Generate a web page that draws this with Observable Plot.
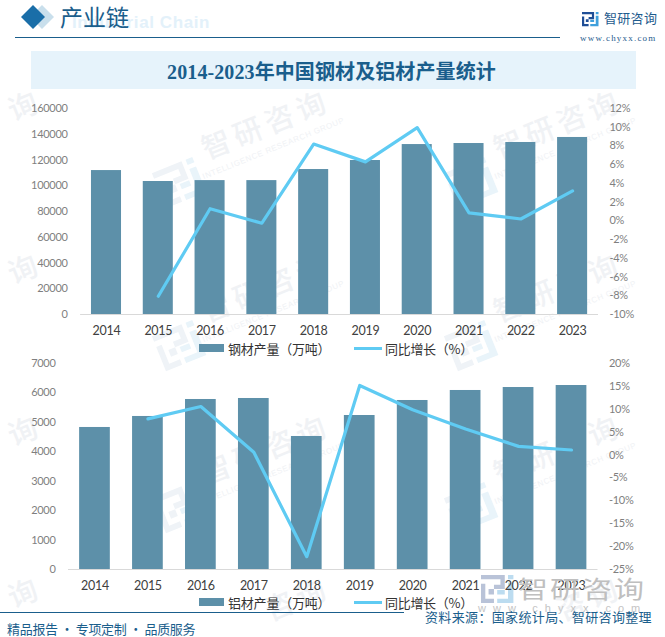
<!DOCTYPE html>
<html lang="zh">
<head>
<meta charset="utf-8">
<script src="https://cdn.jsdelivr.net/npm/d3@7"></script>
<script src="https://cdn.jsdelivr.net/npm/@observablehq/plot@0.6"></script>
<style>
html,body{margin:0;padding:0;background:#fff;}
#page{position:relative;width:665px;height:637px;overflow:hidden;font-family:"Noto Sans CJK SC","Noto Sans",sans-serif;}
#page>svg,.layer{position:absolute;left:0;}
.t{position:absolute;white-space:nowrap;}
.box{position:absolute;}
.layer svg{display:block;background:transparent;}
</style>
</head>
<body>
<div id="page"></div>
<script>
const years = ["2014","2015","2016","2017","2018","2019","2020","2021","2022","2023"];
const steelOutput = [111800,103300,104000,104000,112600,119600,132000,132800,133600,137500];
const steelGrowth = [null,-8.05,1.3,-0.25,8.2,6.3,9.95,0.85,0.2,3.2];
const alumOutput = [4826,5200,5777,5811,4520,5233,5743,6083,6184,6252];
const alumGrowth = [null,7.9,10.6,0.6,-22.2,15.2,9.9,5.7,1.9,1.1];
const steelTicks = [0,20000,40000,60000,80000,100000,120000,140000,160000];
const steelPctTicks = [-10,-8,-6,-4,-2,0,2,4,6,8,10,12];
const alumTicks = [0,1000,2000,3000,4000,5000,6000,7000];
const alumPctTicks = [-25,-20,-15,-10,-5,0,5,10,15,20];
const title = "2014-2023年中国钢材及铝材产量统计";
const barColor = "#5d90a9", lineColor = "#5fcbf3", brand = "#1a5e8c";
const page = document.getElementById("page");

function el(cls, css, text){
  const d = document.createElement("div");
  d.className = cls; d.style.cssText = css;
  if (text) d.textContent = text;
  page.appendChild(d);
  return d;
}

/* brand mark */
function logo(g, c1, c2){
  g.append("path").attr("fill",c1).attr("d","M0 0H22V13H12V9H18V4H0Z M0 8H4V22H12V26H0Z M7 13H12V18H7Z");
  g.append("path").attr("fill",c2).attr("d","M25 0H30V4H25Z M25 7H30V26H15V22H25Z M15 14H22V18H15Z");
}

/* watermark layer */
const wm = d3.select(page).append("svg").attr("width",665).attr("height",637).style("top",0);
function mark(cx, cy, word, full){
  const g = wm.append("g").attr("transform",`translate(${cx},${cy}) rotate(-22)`);
  g.append("text").attr("x",70).attr("text-anchor","end").attr("font-size",29).attr("font-weight",500)
    .attr("letter-spacing",5).attr("fill","#f0f2f5").attr("font-family","Noto Sans CJK SC").text(word);
  if (full) {
    g.append("text").attr("y",17).attr("text-anchor","middle").attr("font-size",8)
      .attr("letter-spacing",.6).attr("fill","#f0f2f5").attr("font-family","Liberation Sans").text("INTELLIGENCE RESEARCH GROUP");
  }
  logo(g.append("g").attr("transform","translate(-122,-8) scale(1.45)"),"#eff3f7","#e9f4fa");
}
for (const cx of [268,560]) {
  for (const cy of [135,298,460]) mark(cx,cy,"智研咨询",true);
  mark(cx,622,"咨询",false);
}
for (const cy of [135,298,460,622]) mark(-20,cy,"询",false);

/* header */
const head = d3.select(page).append("svg").attr("width",665).attr("height",637).style("top",0);
head.append("path").attr("d","M42 5L54 17L42 29L30 17Z").attr("fill","#c9dfec");
head.append("path").attr("d","M33 5L45 17L33 29L21 17Z").attr("fill","#1a6ea8");
head.append("rect").attr("x",15).attr("y",37).attr("width",545).attr("height",1).attr("fill",brand);
head.append("rect").attr("x",0).attr("y",612).attr("width",404).attr("height",1).attr("fill",brand);
logo(head.append("g").attr("transform","translate(582,12) scale(.55)"),"#1f4e96","#3fa0dc");
logo(head.append("g").attr("transform","translate(481,575) scale(1.08)"),"#b9c3d8","#bcdcf0");

el("t",'left:72px;top:13.5px;font:700 17px/1 "Liberation Sans";color:#e3f1fa;letter-spacing:.6px',"Industrial Chain");
el("t",'left:60px;top:5px;font:400 23px/1 "Noto Sans CJK SC";color:#1a5e8c',"产业链");
el("t",'left:604px;top:10.5px;font:400 13px/1 "Noto Sans CJK SC";color:#1f5c8e;letter-spacing:.3px',"智研咨询");
el("t",'left:580px;top:33.5px;font:400 9px/1 "Liberation Serif";color:#1f5c8e;letter-spacing:1.2px',"www.chyxx.com");
el("box",'left:31px;top:51px;width:605px;height:38px;background:#e6f3fb');
el("t",'left:0;width:663px;top:62px;text-align:center;font:700 20px/1 "Liberation Serif","Noto Sans CJK SC";color:#1a5e8c;letter-spacing:.1px',title);

/* charts */
function chart({top, left, right, plotH, out, growth, ticks, pctTicks}){
  const mt = 18, mb = 30, h = mt + plotH + mb;
  const rows = years.map((y,i)=>({year:y,out:out[i],growth:growth[i]}));
  const base = {width:665,height:h,marginTop:mt,marginBottom:mb,marginLeft:left,marginRight:665-right,
    style:{background:"transparent",overflow:"visible",fontFamily:"Lato"}};
  const x = {type:"band",domain:years,paddingInner:.42,paddingOuter:.21,align:.5,round:false,label:null};
  const bars = Plot.plot({...base,x,
    y:{domain:[ticks[0],ticks[ticks.length-1]],label:null},
    marks:[
      Plot.barY(rows,{x:"year",y:"out",fill:barColor}),
      Plot.ruleY([0],{stroke:"#d9d9d9",strokeWidth:1}),
      Plot.axisX({tickSize:0,tickPadding:12,fontSize:12.5,color:"#404040",label:null}),
      Plot.axisY({ticks,tickSize:0,tickPadding:13,fontSize:11,color:"#7f7f7f",label:null,tickFormat:d=>String(d)})
    ]});
  const lines = Plot.plot({...base,x:{...x,axis:null},
    y:{domain:[pctTicks[0],pctTicks[pctTicks.length-1]],label:null},
    marks:[
      Plot.lineY(rows.filter(r=>r.growth!=null),{x:"year",y:"growth",stroke:lineColor,strokeWidth:3.2,curve:"linear"}),
      Plot.axisY({anchor:"right",ticks:pctTicks,tickSize:0,tickPadding:11,fontSize:11,color:"#7f7f7f",label:null,tickFormat:d=>d+"%"})
    ]});
  for (const p of [bars,lines]) {
    p.style.letterSpacing = "-0.3px";
    const w = el("layer",`top:${top}px`); w.appendChild(p);
  }
}
chart({top:90,left:80.1,right:598,plotH:206,out:steelOutput,growth:steelGrowth,ticks:steelTicks,pctTicks:steelPctTicks});
chart({top:345,left:68,right:597.5,plotH:206,out:alumOutput,growth:alumGrowth,ticks:alumTicks,pctTicks:alumPctTicks});

/* legends */
function legend(y, name){
  el("box",`left:199px;top:${y-4}px;width:25px;height:8px;background:${barColor}`);
  el("t",`left:228px;top:${y-6.5}px;font:400 13px/1 "Noto Sans CJK SC";color:#333;letter-spacing:-.2px`,name);
  el("box",`left:354px;top:${y-1.5}px;width:28px;height:3px;background:${lineColor}`);
  el("t",`left:385px;top:${y-6.5}px;font:400 13px/1 "Noto Sans CJK SC";color:#333;letter-spacing:-.3px`,"同比增长（%）");
}
legend(348,"钢材产量（万吨）");
legend(602,"铝材产量（万吨）");

/* footer */
el("t",'left:518px;top:576px;font:400 30px/1 "Noto Sans CJK SC";color:#bfbfbf;letter-spacing:2px;transform:scaleY(.78);transform-origin:0 0',"智研咨询");
el("t",'left:478px;top:603px;font:400 11px/1 "Liberation Sans";color:#c4c4c4;letter-spacing:7px',"www.chyxx.com");
el("t",'left:7px;top:622px;font:400 13px/1 "Noto Sans CJK SC";color:#1a5e8c;letter-spacing:-.3px',"精品报告 · 专项定制 · 品质服务");
el("t",'left:425px;top:609.5px;font:400 13px/1 "Noto Sans CJK SC";color:#1a5e8c;letter-spacing:.35px',"资料来源：国家统计局、智研咨询整理");
</script>
</body>
</html>
